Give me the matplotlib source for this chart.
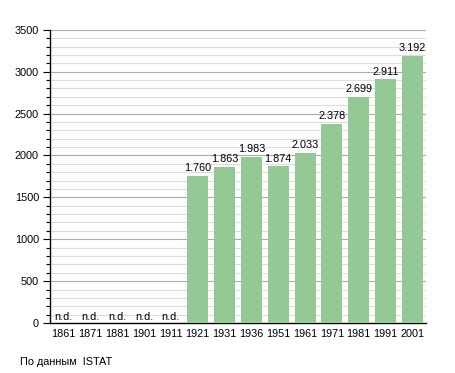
import matplotlib.pyplot as plt
from matplotlib.ticker import MultipleLocator

years = ['1861', '1871', '1881', '1901', '1911', '1921', '1931',
         '1936', '1951', '1961', '1971', '1981', '1991', '2001']
# None = no data (n.d.)
population = [None, None, None, None, None, 1760, 1863,
              1983, 1874, 2033, 2378, 2699, 2911, 3192]

plt.rcParams['font.family'] = ['Liberation Sans', 'DejaVu Sans']
fs = 7.8

fig = plt.figure(figsize=(4.55, 3.73), dpi=100)
ax = fig.add_axes([0.110, 0.134, 0.826, 0.786])

x = list(range(len(years)))
heights = [v if v is not None else 0 for v in population]
bars = ax.bar(x, heights, width=0.78, color='#94c894', zorder=3)

for xi, v in zip(x, population):
    if v is None:
        ax.text(xi, 15, 'n.d.', ha='center', va='bottom', fontsize=fs)
    else:
        label = f'{v:,}'.replace(',', '.')
        ax.text(xi, v + 30, label, ha='center', va='bottom', fontsize=fs)

ax.set_xlim(-0.5, len(years) - 0.5)
ax.set_ylim(0, 3500)
ax.set_xticks(x)
ax.set_xticklabels(years, fontsize=fs)
ax.yaxis.set_major_locator(MultipleLocator(500))
ax.yaxis.set_minor_locator(MultipleLocator(100))
ax.tick_params(axis='y', labelsize=fs, length=5, width=0.8, pad=3)
ax.tick_params(axis='y', which='minor', length=3, width=0.8)
ax.tick_params(axis='x', length=0, pad=4)

ax.grid(axis='y', which='major', color='#aaaaaa', linewidth=0.8, zorder=0)
ax.grid(axis='y', which='minor', color='#dddddd', linewidth=0.8, zorder=0)
for s in ['top', 'right']:
    ax.spines[s].set_visible(False)
ax.spines['left'].set_linewidth(1)
ax.spines['bottom'].set_linewidth(1)

fig.text(20 / 455, 1 - 362 / 373, 'По данным  ISTAT', fontsize=fs, va='center')

plt.savefig('out.png', dpi=100)
